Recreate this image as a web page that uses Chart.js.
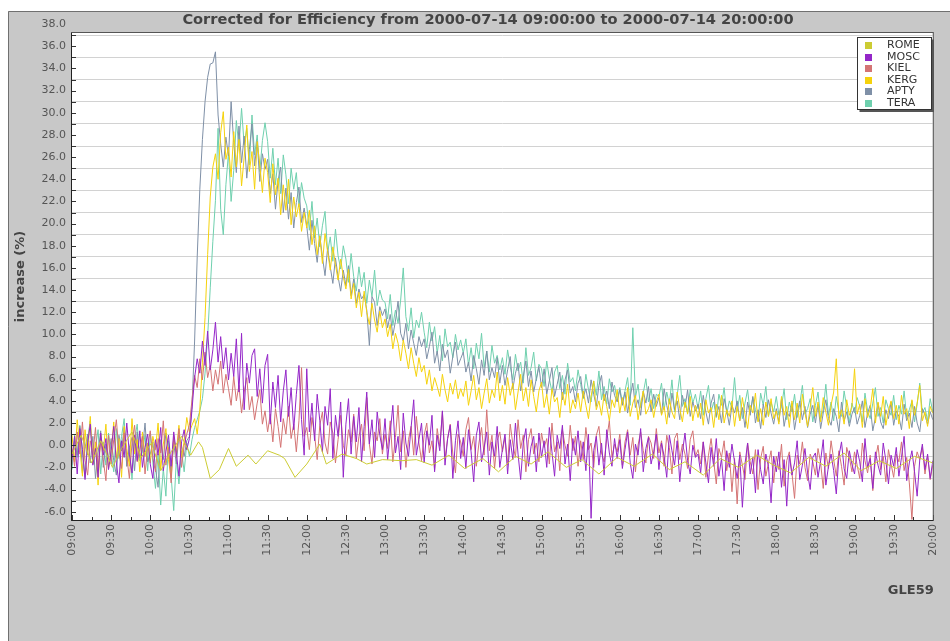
<!DOCTYPE html>
<html>
<head>
<meta charset="utf-8">
<title>GLE59 neutron monitor increase</title>
<script src="https://cdn.jsdelivr.net/npm/chart.js@4.4.1/dist/chart.umd.min.js"></script>
<style>
  html, body { margin: 0; padding: 0; background: #ffffff; }
  canvas { display: block; }
</style>
</head>
<body>
<canvas id="chart" width="950" height="641"></canvas>
<script>
// ---- text ----
const chartTitle = 'Corrected for Efficiency from 2000-07-14 09:00:00 to 2000-07-14 20:00:00';
const yAxisTitle = 'increase (%)';
const eventName = 'GLE59';

// ---- time axis: minutes after 09:00, one sample every 2 minutes ----
const sampleStepMinutes = 2;
const timeTickLabels = ['09:00', '09:30', '10:00', '10:30', '11:00', '11:30', '12:00', '12:30',
  '13:00', '13:30', '14:00', '14:30', '15:00', '15:30', '16:00', '16:30', '17:00', '17:30',
  '18:00', '18:30', '19:00', '19:30', '20:00'];

// ---- stations ----
const stationNames = ['ROME', 'MOSC', 'KIEL', 'KERG', 'APTY', 'TERA'];
const stationColors = ['#cccc33', '#9426c8', '#d47474', '#f5d20c', '#7f90a7', '#6fd0ae'];

// increase (%), rows of half an hour (15 samples), last value at 20:00
const moscValues = [
  -1.2, 0.8, -2.6, 1.5, -0.4, -3.1, 0.2, 1.9, -1.8, -0.3, -2.9, 1.1, -0.9, 0.6, -2.2,
  -0.5, 1.7, -1.6, -3.4, 0.4, -1.1, 2.0, -0.8, -2.5, 0.9, -1.4, 1.3, -2.0, -0.2, 1.0,
  -1.7, -3.0, 0.5, -0.9, 1.6, -2.3, -0.6, 0.9, -1.9, 1.2, -0.7, -2.8, 0.3, 1.4, -0.4,
  0.6, 3.2, 6.1, 7.8, 6.5, 9.4, 7.2, 10.3, 6.8, 8.6, 11.1, 7.5, 9.8, 6.9, 8.8,
  5.9, 8.3, 6.2, 9.6, 4.8, 10.1, 3.2, 7.4, 5.6, 8.1, 8.7, 4.4, 6.9, 3.8, 7.2,
  8.2, 1.9, 5.7, 3.4, 6.3, 2.1, 4.9, 6.8, 2.6, 5.2, 1.4, 4.6, 7.2, 2.3, -0.9,
  6.9, 1.2, 3.8, 0.4, 4.6, 2.2, -0.6, 3.5, 1.8, 5.1, -1.2, 2.7, 0.8, 3.9, -2.9,
  1.9, 4.2, -0.8, 2.6, 0.3, 3.4, -1.5, 1.7, 4.8, 0.1, 2.3, -1.1, 3.0, 0.9, -0.4,
  2.4, -1.3, 1.1, 3.6, -0.7, 0.8, -2.2, 2.9, 0.2, -1.0, 1.6, 4.1, -0.9, 0.5, 2.0,
  -1.6, 1.3, 0.0, 2.7, -2.4, 0.9, -0.5, 3.1, -1.8, 0.6, 1.8, -3.0, 0.4, 2.2, -1.2,
  0.7, -2.1, 1.4, -0.6, -3.3, 0.9, 2.1, -1.5, -0.2, 1.2, -2.7, 0.3, -1.0, 1.7, -2.0,
  -0.4, 1.0, -2.6, 0.5, -1.3, 2.0, -0.8, -3.1, 0.2, 1.5, -1.9, -0.1, 0.8, -2.4, 1.1,
  -1.1, 0.4, -2.0, 1.6, -0.6, -2.8, 0.9, -0.3, 1.8, -1.7, 0.1, -3.2, 0.6, -0.9, 1.3,
  -1.5, 0.3, -2.3, 1.0, -6.6, -0.5, 0.8, -1.8, 0.2, -2.7, 1.4, -0.7, -1.9, 0.6, -1.2,
  0.5, -2.1, -0.4, 1.2, -1.6, -3.0, 0.1, -0.9, 1.5, -2.4, -0.3, 0.7, -1.7, -0.6, 1.0,
  -2.2, 0.2, -1.0, -2.9, 0.9, -0.5, -1.8, 0.4, -3.3, -0.7, 1.1, -1.4, -2.6, 0.0, -1.1,
  -0.8, -2.5, 0.3, -1.6, -3.4, -0.2, -1.9, 0.6, -2.8, -1.2, -4.1, -0.5, -2.0, 0.1, -1.5,
  -3.0, -0.9, -5.6, -1.7, 0.2, -2.6, -1.1, -4.3, -0.4, -2.2, -3.5, -0.8, -1.9, -5.2, -1.0,
  -2.4, -0.6, -3.8, -1.3, -5.5, -0.9, -2.7, -1.6, 0.4, -3.1, -1.8, -0.3, -2.5, -4.0, -1.1,
  -0.7, -2.9, -1.4, 0.5, -3.6, -1.9, -0.8, -2.3, -4.4, -1.0, 0.3, -2.1, -3.0, -0.5, -1.7,
  -2.6, -0.4, -1.5, -3.3, 0.6, -2.0, -1.2, -3.9, -0.6, -1.8, -2.7, 0.2, -1.4, -3.5, -0.9,
  -1.9, -0.2, -2.8, -1.1, 0.8, -3.2, -1.6, -0.5, -2.4, -4.6, -1.3, 0.1, -2.2, -0.8, -3.0,
  -1.4
];

const kielValues = [
  -0.3, -1.9, 1.2, -0.8, 2.1, -1.4, -2.7, 0.4, -0.9, 1.6, -2.2, 0.7, -1.3, -3.2, 0.9,
  -1.7, 0.5, 2.3, -0.6, -2.1, 1.1, -1.0, -3.0, 0.2, 1.8, -1.5, -0.4, 0.8, -2.6, -0.1,
  1.3, -1.2, -2.4, 0.6, -0.7, 2.2, -1.8, -0.2, -3.4, 0.9, -1.1, 1.5, -2.0, 0.0, 1.0,
  1.8, 4.1, 6.3, 5.2, 7.8, 5.9, 8.4, 6.1, 7.2, 4.9, 6.8, 5.5, 7.6, 4.7, 6.4,
  5.1, 3.6, 6.2, 4.0, 5.4, 2.9, 4.8, 6.1, 3.2, 4.4, 2.3, 3.8, 5.0, 1.9, 3.1,
  1.2, 2.8, 0.3, 3.3, 1.7, -0.2, 2.4, 1.0, 3.5, 0.6, 1.9, -0.6, 2.2, 7.0, 0.8,
  1.6, -0.4, 2.5, 0.9, -1.3, 1.8, 3.0, 0.2, -0.8, 2.1, 1.1, -1.6, 0.5, 2.7, 0.0,
  -0.9, 1.4, 0.3, 2.8, -1.2, 0.8, 1.9, -0.5, 4.3, 0.1, -1.7, 1.2, 0.4, 2.4, -0.8,
  1.0, -0.3, 2.2, -1.5, 0.7, 3.6, -0.6, 1.3, -2.0, 0.5, 1.7, -0.9, 2.6, 0.2, -1.4,
  0.9, 2.0, -0.7, 0.4, -2.2, 1.5, -0.1, 3.0, -1.2, 0.6, 1.9, -0.8, -2.5, 1.0, 0.3,
  -1.0, 1.4, 2.5, -0.4, 0.8, -1.9, 0.2, 1.6, -0.9, 3.2, -0.5, 0.9, -2.1, 0.4, 1.2,
  -0.6, 0.7, -1.8, 1.9, 0.1, -1.1, 2.3, -0.3, 0.9, -2.4, 0.5, 1.5, -0.8, 0.2, -1.5,
  1.1, -0.2, 0.6, -1.7, 2.0, -0.6, 0.3, -2.3, 1.4, 0.0, -1.0, 1.8, -0.5, 0.8, -1.9,
  0.4, -1.3, 1.6, -0.4, 0.2, -2.0, 0.9, 1.7, -0.7, -1.5, 0.6, 2.2, -1.1, 0.1, -0.6,
  1.0, -1.8, 0.3, 1.4, -0.9, 0.7, -2.4, 0.0, 1.2, -0.5, -1.6, 0.8, 0.2, -1.2, 1.5,
  -0.7, 0.4, -1.9, 0.9, -0.2, -2.6, 0.6, 1.1, -1.3, 0.1, -0.8, -2.1, 0.5, 1.3, -1.0,
  -0.4, -1.7, 0.3, -2.9, -0.9, 0.6, -1.4, -3.5, -0.3, -1.1, 0.4, -2.3, -0.7, -4.2, -1.2,
  -5.3, -0.6, -1.8, -3.1, 0.2, -1.5, -2.6, -0.4, -4.0, -1.2, -0.1, -2.8, -1.6, -0.5, -3.4,
  -1.0, -2.2, 0.1, -3.7, -1.4, -0.6, -2.5, -4.8, -0.9, -1.7, 0.3, -2.0, -3.2, -0.8, -1.5,
  -2.7, -0.3, -1.6, -3.9, -0.7, -2.1, 0.4, -1.3, -2.8, -0.5, -1.9, -3.6, -0.2, -1.1, -2.4,
  -0.6, -1.8, -3.0, 0.2, -1.4, -2.5, -0.9, -4.1, -1.2, 0.0, -2.2, -1.0, -3.3, -0.4, -1.7,
  -2.9, -0.8, -1.5, 0.3, -2.3, -1.1, -3.4, -6.7, -1.9, -0.6, -1.3, -0.2, -2.6, -1.0, -3.1,
  -1.8
];

const kergValues = [
  0.9, -1.5, 2.3, -0.2, -2.8, 1.4, -0.9, 2.6, -1.7, 0.3, -3.6, 1.0, -0.5, 1.9, -2.1,
  -0.6, 2.1, -1.2, 0.6, -2.9, 1.7, -0.3, -1.9, 2.4, -0.8, 0.5, -2.4, 1.2, -1.0, 0.2,
  -1.6, 0.8, -0.4, 2.0, -2.2, 0.1, 1.5, -1.3, -3.0, 0.7, -0.6, 1.8, -1.1, 0.4, 2.5,
  1.2, 1.8, 2.4, 1.0, 3.2, 7.5, 11.5, 17.2, 22.4, 25.1, 26.3, 24.0, 28.2, 30.1, 25.8,
  26.9, 24.2, 28.3, 25.1, 27.6, 23.4, 26.0, 28.9, 24.7, 26.5, 23.1, 27.4, 25.3, 22.8, 25.9,
  24.6, 21.9, 25.4, 22.6, 24.1, 20.8, 23.5, 21.2, 24.0, 19.9, 22.4, 20.6, 21.8, 19.3, 21.0,
  19.6, 21.2, 18.1, 19.8, 17.2, 18.9, 16.4, 19.1, 17.5, 15.8, 17.9, 16.3, 14.9, 16.8, 15.2,
  14.1, 15.9, 13.2, 14.6, 12.4, 13.8, 11.6, 13.9, 12.0, 10.9, 12.8, 11.3, 10.2, 12.1, 10.6,
  11.4, 9.8, 10.9, 8.7, 10.1, 9.2, 7.6, 9.5, 8.3, 6.9, 8.8, 7.4, 6.2, 7.9, 6.6,
  7.2, 5.5, 6.8, 4.9, 6.1, 5.3, 4.4, 6.4, 5.0, 3.9, 5.6, 4.6, 5.9, 4.2, 5.1,
  4.4, 5.8, 3.6, 4.9, 6.3, 4.1, 5.2, 3.3, 4.7, 6.0, 3.8, 5.0, 4.3, 6.6, 4.0,
  5.4, 3.7, 6.1, 4.5, 5.6, 3.2, 4.8, 6.4, 4.0, 5.2, 3.5, 5.9, 4.4, 3.0, 4.9,
  5.7, 3.4, 4.6, 2.8, 5.1, 3.9, 4.3, 2.5, 4.8, 3.6, 5.5, 2.9, 4.1, 3.3, 4.7,
  3.0, 4.9, 3.6, 2.4, 4.4, 5.8, 3.2, 4.0, 2.7, 4.6, 3.5, 2.2, 4.1, 3.4, 5.0,
  2.9, 4.3, 3.1, 5.2, 2.6, 3.8, 4.5, 2.3, 3.7, 4.9, 2.8, 3.3, 4.1, 2.5, 3.9,
  4.6, 2.7, 3.5, 1.9, 4.2, 3.0, 2.4, 4.8, 3.3, 2.1, 3.9, 2.8, 4.4, 2.2, 3.6,
  2.5, 3.8, 1.8, 4.1, 2.9, 3.4, 1.6, 3.7, 2.3, 4.5, 2.0, 3.2, 2.6, 4.0, 1.7,
  3.5, 2.2, 4.3, 2.8, 1.5, 3.6, 2.9, 4.7, 2.1, 3.3, 1.8, 3.9, 2.6, 4.2, 2.4,
  3.1, 1.9, 4.4, 2.7, 3.5, 1.6, 4.0, 2.3, 3.8, 2.0, 4.6, 2.9, 1.7, 3.4, 5.2,
  2.6, 3.9, 2.1, 4.3, 3.0, 1.8, 3.6, 4.8, 7.8, 2.4, 3.2, 1.9, 4.1, 2.7, 3.5,
  6.9, 2.8, 3.7, 1.6, 4.2, 2.5, 3.3, 5.1, 2.0, 3.9, 2.6, 4.4, 1.8, 3.1, 4.0,
  2.4, 3.6, 1.9, 4.5, 2.8, 3.3, 1.5, 4.1, 2.7, 3.8, 5.4, 2.2, 3.0, 1.7, 3.5,
  2.9
];

const aptyValues = [
  -1.8, 0.4, -0.9, 1.7, -2.5, -0.3, 1.0, -1.6, 0.8, -3.0, -0.7, 1.3, -2.0, 0.1, -1.2,
  0.6, -1.4, -2.7, 0.9, -0.5, 1.6, -1.9, -0.2, 0.7, -2.3, 1.2, -1.1, -0.4, 2.0, -1.5,
  -0.8, 0.3, -2.1, -3.8, 0.5, -1.3, 1.1, -0.6, -2.4, 0.2, -1.7, 0.9, -0.1, -1.0, 0.4,
  0.8, 3.5, 9.4, 17.0, 23.1, 27.6, 31.0, 33.2, 34.4, 34.5, 35.5, 29.8, 27.2, 25.1, 27.8,
  26.1, 31.0, 27.3, 24.6, 28.8, 25.5, 27.9, 24.1, 26.7, 29.0, 25.2, 27.4, 23.8, 26.3, 24.9,
  25.8, 22.7, 24.5, 21.3, 23.9, 25.1, 21.0, 23.2, 20.4, 22.8, 19.6, 21.9, 23.3, 20.1, 21.4,
  19.8, 17.6, 20.3, 18.2, 16.5, 18.9, 17.0, 15.3, 17.8, 16.1, 14.6, 16.9, 15.2, 13.9, 15.8,
  14.4, 16.2, 13.5, 15.0, 12.8, 14.1, 13.2, 13.6, 12.2, 9.0, 13.4, 12.9, 10.8, 12.5, 11.7,
  12.3, 10.6, 11.8, 9.9, 11.2, 13.0, 10.1, 9.4, 11.0, 8.7, 10.4, 9.2, 8.1, 9.8, 8.9,
  9.6, 7.8, 8.9, 10.2, 7.4, 8.5, 6.7, 9.1, 7.9, 8.6, 6.5, 8.0, 9.3, 7.2, 7.8,
  8.4, 6.6, 7.5, 5.8, 8.1, 6.9, 5.5, 7.7, 6.3, 8.5, 5.9, 7.0, 6.1, 7.9, 5.6,
  7.2, 5.4, 6.8, 8.0, 5.1, 6.5, 7.4, 4.9, 6.2, 7.6, 5.3, 6.7, 4.8, 6.0, 7.1,
  5.2, 6.9, 4.6, 5.8, 7.0, 4.4, 5.5, 6.6, 4.1, 5.9, 6.8, 4.7, 5.3, 3.9, 5.6,
  6.2, 4.3, 5.1, 3.8, 5.9, 4.6, 3.5, 5.4, 6.3, 4.0, 4.9, 3.3, 5.7, 4.5, 3.9,
  5.0, 3.6, 4.8, 2.9, 4.4, 5.6, 3.4, 4.1, 2.7, 4.9, 3.8, 5.3, 3.0, 4.6, 3.5,
  4.3, 2.8, 5.1, 3.6, 2.5, 4.7, 3.2, 4.0, 2.3, 4.5, 3.4, 5.0, 2.6, 3.9, 3.1,
  3.7, 2.4, 4.5, 3.0, 1.9, 3.8, 4.6, 2.6, 3.5, 2.0, 4.2, 3.1, 1.8, 3.6, 2.9,
  4.0, 2.2, 3.4, 1.6, 3.9, 2.7, 4.4, 2.0, 3.2, 1.5, 3.7, 2.5, 4.1, 2.9, 1.9,
  3.3, 2.1, 4.2, 1.7, 3.0, 2.6, 3.8, 1.4, 2.9, 4.0, 2.3, 3.5, 1.6, 2.8, 3.6,
  2.0, 3.7, 1.5, 2.9, 4.1, 2.4, 1.8, 3.3, 2.6, 1.2, 3.9, 2.2, 3.0, 1.7, 2.8,
  3.4, 1.9, 2.7, 4.0, 1.6, 2.9, 3.6, 1.3, 2.5, 3.8, 2.1, 1.5, 3.2, 2.4, 3.9,
  1.8, 3.1, 2.6, 1.4, 3.7, 2.2, 2.9, 1.6, 3.5, 2.0, 1.2, 3.3, 2.7, 1.9, 3.0,
  2.3
];

const teraValues = [
  -2.2, 0.9, -1.1, 1.8, -0.4, -2.9, 0.6, 2.2, -1.5, -0.2, 1.4, -2.6, 0.3, -1.8, 1.1,
  -0.7, -2.4, 1.5, -1.2, 0.8, 2.4, -1.9, -0.1, -3.1, 0.5, 1.9, -1.4, -0.6, 0.9, -2.3,
  1.0, -1.6, -3.9, -0.8, -5.4, -2.1, -4.6, 0.4, -2.8, -5.9, -1.3, -3.5, -0.5, -2.4, 0.2,
  -1.0, 0.5, 1.6, 2.3, 3.1, 4.2, 6.5, 9.8, 14.2, 18.4, 22.1, 28.6, 21.3, 19.0, 23.5,
  26.4, 22.0, 24.8, 29.3, 26.9, 30.4, 27.1, 28.6, 25.3, 29.8, 26.2, 28.0, 24.7, 27.5, 29.1,
  27.4, 24.1, 26.8, 23.5, 25.9, 22.7, 26.2, 24.4, 21.8, 25.0, 23.1, 24.6, 21.5, 23.7, 22.3,
  21.6, 19.4, 22.0, 18.7, 20.5, 17.9, 19.8, 21.1, 17.4, 18.8, 16.6, 19.5, 17.1, 15.9, 18.0,
  16.8, 14.7, 17.3, 15.2, 13.9, 16.1, 14.3, 15.6, 12.8, 14.9, 13.4, 15.8, 12.6, 14.0, 13.1,
  12.9, 11.4, 13.6, 10.8, 12.2, 11.0, 13.1, 16.0, 11.6, 10.3, 12.4, 9.7, 11.3, 10.6, 12.0,
  10.2, 8.8, 11.1, 9.4, 10.7, 8.3, 9.9, 7.6, 10.5, 8.9, 9.3, 7.9, 10.0, 8.6, 9.5,
  8.3, 9.6, 7.2, 8.8, 6.9, 9.2, 7.8, 10.1, 7.0, 8.5, 6.6, 9.0, 7.4, 8.1, 6.8,
  7.9, 6.4, 8.6, 7.1, 5.9, 8.2, 6.7, 7.5, 5.6, 8.8, 6.3, 7.0, 8.4, 5.8, 7.3,
  6.9, 5.3, 7.6, 6.0, 4.8, 6.6, 7.2, 5.1, 6.3, 4.6, 7.4, 5.7, 6.1, 4.9, 6.8,
  5.5, 4.2, 6.4, 5.0, 3.9, 5.8, 4.5, 6.7, 4.1, 5.3, 3.7, 6.0, 4.8, 5.4, 4.0,
  5.2, 3.8, 4.9, 6.1, 3.6, 10.6, 4.3, 5.5, 3.4, 4.7, 6.0, 3.9, 5.1, 3.3, 4.6,
  4.4, 5.6, 3.2, 4.8, 3.7, 5.9, 3.0, 4.5, 6.3, 3.5, 4.2, 2.9, 5.0, 3.8, 4.6,
  3.3, 4.9, 2.7, 4.2, 5.4, 3.0, 3.9, 2.5, 4.6, 3.6, 5.2, 2.8, 4.0, 3.4, 6.1,
  3.1, 4.5, 2.4, 3.8, 5.0, 2.9, 4.3, 3.2, 2.2, 4.7, 3.6, 5.3, 2.6, 3.9, 3.0,
  4.4, 2.7, 3.5, 5.1, 2.3, 3.9, 3.0, 4.6, 2.5, 3.7, 5.4, 2.8, 3.3, 4.2, 2.1,
  3.6, 4.8, 2.4, 3.2, 5.5, 2.7, 3.9, 2.2, 4.4, 3.0, 2.6, 4.9, 3.4, 2.0, 3.8,
  2.9, 4.3, 3.5, 2.1, 4.7, 3.1, 2.4, 3.8, 5.2, 2.6, 3.4, 2.0, 4.1, 3.3, 2.7,
  4.5, 2.3, 3.6, 2.8, 4.9, 2.5, 3.2, 4.0, 2.1, 3.7, 5.6, 2.9, 3.4, 2.2, 4.2,
  3.0
];

// Rome reports irregularly: its own sample times (minutes after 09:00)
const romeMinutes = [0, 7, 15, 22, 31, 38, 46, 53, 61, 68, 76, 84, 91, 97,
  100, 106, 113, 120, 126, 135, 141, 150, 159, 163, 171, 180, 190, 195, 207, 218, 226, 238,
  253, 264, 276, 289, 301, 315, 327, 340, 352, 365, 379, 391, 404, 418, 431, 445, 458, 470,
  484, 497, 511, 525, 538, 551, 565, 578, 592, 605, 619, 632, 646, 660];
const romeValues = [-0.8, 0.9, -1.6, 0.4, -2.0, -0.3, 1.2, -1.1, 0.2, -2.3, -0.6, 0.8, -0.9, 0.3,
  -0.2, -3.0, -2.2, -0.3, -1.9, -0.9, -1.7, -0.5, -0.9, -1.2, -2.9, -1.7, 0.1, -1.7, -0.8, -1.2, -1.7, -1.3,
  -1.4, -1.3, -1.8, -0.9, -2.1, -1.2, -2.4, -1.0, -1.7, -0.6, -2.0, -1.3, -2.6, -1.1, -1.9, -0.8, -2.2, -1.5,
  -2.7, -1.2, -2.0, -0.9, -1.8, -2.5, -1.1, -1.9, -0.7, -2.3, -1.4, -2.1, -1.0, -1.6];

// ---- axis ranges ----
const xMinMinutes = 0, xMaxMinutes = 660;
const yMin = -6.75, yMax = 37.2;

const font = 'DejaVu Sans';

function gridSeries(values) {
  return values.map((v, i) => ({ x: i * sampleStepMinutes, y: v }));
}
function romeSeries() {
  return romeMinutes.map((m, i) => ({ x: m, y: romeValues[i] }));
}

const seriesData = [romeSeries(), gridSeries(moscValues), gridSeries(kielValues),
  gridSeries(kergValues), gridSeries(aptyValues), gridSeries(teraValues)];

const datasets = stationNames.map((name, i) => ({
  label: name,
  data: seriesData[i],
  borderColor: stationColors[i],
  backgroundColor: stationColors[i],
  borderWidth: 1,
  pointRadius: 0,
  pointHoverRadius: 0,
  tension: 0,
  fill: false,
  spanGaps: true
}));

// panel background, plot frame, inside tick marks, titles and legend box
const decorations = {
  id: 'decorations',
  beforeDraw(chart) {
    const { ctx, chartArea: a, width, height } = chart;
    ctx.save();
    ctx.fillStyle = '#ffffff';
    ctx.fillRect(0, 0, width, height);
    ctx.fillStyle = '#c8c8c8';
    ctx.fillRect(8, 11, width - 8, height - 11);
    ctx.strokeStyle = '#707070';
    ctx.lineWidth = 1;
    ctx.beginPath();
    ctx.moveTo(8.5, height);
    ctx.lineTo(8.5, 11.5);
    ctx.lineTo(width, 11.5);
    ctx.stroke();
    ctx.fillStyle = '#ffffff';
    ctx.fillRect(a.left, a.top, a.right - a.left, a.bottom - a.top);
    ctx.restore();
  },
  afterDatasetsDraw(chart) {
    const { ctx, chartArea: a, scales } = chart;
    ctx.save();
    ctx.lineWidth = 1;
    ctx.strokeStyle = '#333333';
    ctx.beginPath();
    scales.y.ticks.forEach(t => {
      const py = Math.round(scales.y.getPixelForValue(t.value)) + 0.5;
      ctx.moveTo(a.left, py);
      ctx.lineTo(a.left + 4, py);
    });
    scales.x.ticks.forEach(t => {
      const px = Math.round(scales.x.getPixelForValue(t.value)) + 0.5;
      const len = t.value % 30 === 0 ? 5 : 3;
      ctx.moveTo(px, a.bottom);
      ctx.lineTo(px, a.bottom - len);
    });
    ctx.stroke();
    ctx.strokeStyle = '#555555';
    ctx.strokeRect(a.left - 0.5, a.top - 0.5, a.right - a.left + 1, a.bottom - a.top + 1);
    ctx.strokeStyle = '#222222';
    ctx.beginPath();
    ctx.moveTo(a.left - 0.5, a.top);
    ctx.lineTo(a.left - 0.5, a.bottom + 0.5);
    ctx.lineTo(a.right + 0.5, a.bottom + 0.5);
    ctx.stroke();
    ctx.restore();
  },
  afterDraw(chart) {
    const { ctx, chartArea: a, scales } = chart;
    ctx.save();
    // chart title
    ctx.fillStyle = '#444444';
    ctx.font = 'bold 14.6px "' + font + '"';
    ctx.textAlign = 'center';
    ctx.textBaseline = 'middle';
    ctx.fillText(chartTitle, 488, 20);
    // value axis title
    ctx.save();
    ctx.translate(21, (a.top + a.bottom) / 2);
    ctx.rotate(-Math.PI / 2);
    ctx.font = 'bold 13px "' + font + '"';
    ctx.fillText(yAxisTitle, 0, 0);
    ctx.restore();
    // top tick label sits just above the plot frame
    ctx.fillStyle = '#555555';
    ctx.font = '11px "' + font + '"';
    ctx.textAlign = 'right';
    ctx.fillText((38).toFixed(1), a.left - 6, scales.y.getPixelForValue(38));
    // event name
    ctx.fillStyle = '#444444';
    ctx.font = 'bold 13px "' + font + '"';
    ctx.textAlign = 'right';
    ctx.fillText(eventName, a.right + 1, 591);
    // legend
    const lx = 857.5, ly = 37.5, lw = 74, lh = 72;
    ctx.fillStyle = '#ffffff';
    ctx.fillRect(lx, ly, lw, lh);
    ctx.strokeStyle = '#333333';
    ctx.lineWidth = 1;
    ctx.strokeRect(lx, ly, lw, lh);
    ctx.strokeStyle = '#555555';
    ctx.lineWidth = 2;
    ctx.beginPath();
    ctx.moveTo(lx + lw + 1.5, ly + 2);
    ctx.lineTo(lx + lw + 1.5, ly + lh + 1.5);
    ctx.lineTo(lx + 2, ly + lh + 1.5);
    ctx.stroke();
    ctx.font = '11px "' + font + '"';
    ctx.textAlign = 'left';
    ctx.textBaseline = 'middle';
    chart.data.datasets.forEach((ds, i) => {
      const cy = 45.5 + i * 11.5;
      ctx.fillStyle = ds.borderColor;
      ctx.fillRect(865, Math.round(cy - 3.5), 7, 7);
      ctx.fillStyle = '#333333';
      ctx.fillText(ds.label, 887, cy);
    });
    ctx.restore();
  }
};

new Chart(document.getElementById('chart'), {
  type: 'line',
  data: { datasets },
  options: {
    responsive: false,
    animation: false,
    devicePixelRatio: 1,
    parsing: true,
    layout: { padding: { top: 33, right: 16, bottom: 0, left: 0 } },
    plugins: {
      legend: { display: false },
      title: { display: false },
      tooltip: { enabled: false }
    },
    scales: {
      x: {
        type: 'linear',
        min: xMinMinutes,
        max: xMaxMinutes,
        afterBuildTicks(scale) {
          const t = [];
          for (let m = xMinMinutes; m <= xMaxMinutes; m += 15) t.push({ value: m });
          scale.ticks = t;
        },
        afterFit(scale) { scale.height = 121; },
        grid: { display: false, drawTicks: false },
        border: { display: false },
        ticks: {
          autoSkip: false,
          minRotation: 90,
          maxRotation: 90,
          padding: 4,
          color: '#555555',
          font: { family: font, size: 11 },
          callback: v => (v % 30 === 0 ? timeTickLabels[v / 30] : '')
        }
      },
      y: {
        type: 'linear',
        min: yMin,
        max: yMax,
        afterBuildTicks(scale) {
          const t = [];
          for (let v = Math.ceil(yMin); v <= Math.floor(yMax); v++) t.push({ value: v });
          scale.ticks = t;
        },
        afterFit(scale) { scale.width = 72; },
        grid: {
          drawTicks: false,
          color: ctx => (ctx.tick && Math.abs(ctx.tick.value) % 2 === 1 ? '#d2d2d2' : 'rgba(0,0,0,0)'),
          lineWidth: 1
        },
        border: { display: false },
        ticks: {
          autoSkip: false,
          padding: 6,
          color: '#555555',
          font: { family: font, size: 11 },
          callback: v => (v % 2 === 0 ? v.toFixed(1) : '')
        }
      }
    }
  },
  plugins: [decorations]
});
</script>
</body>
</html>
